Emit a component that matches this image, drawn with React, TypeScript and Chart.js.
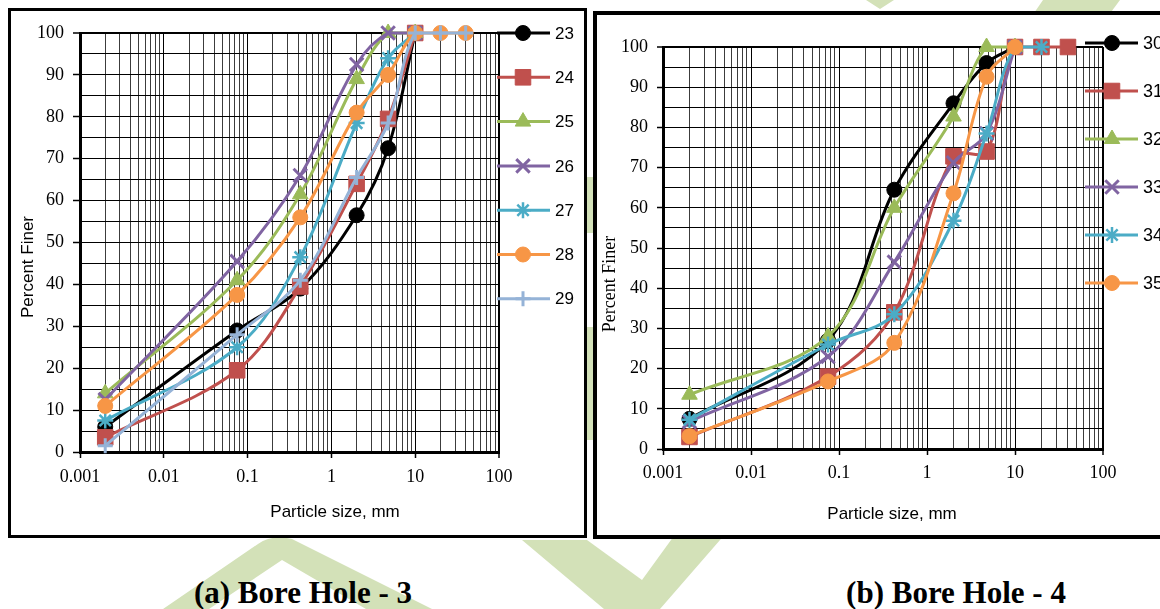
import React, { useEffect, useRef } from 'react';
import { Chart, registerables } from 'chart.js';
import { drawPoint } from 'chart.js/helpers';

Chart.register(...registerables);

// ---------- data ----------
const sieveSizes = [0.002, 0.075, 0.425, 2, 4.75, 10, 20, 40];
const xTickLabels = ['0.001', '0.01', '0.1', '1', '10', '100'];
const yTickLabels = ['0', '10', '20', '30', '40', '50', '60', '70', '80', '90', '100'];

// Bore Hole - 3
const bh3Names = ['23', '24', '25', '26', '27', '28', '29'];
const bh3_23 = [6, 29, 39, 56.5, 72.5, 100];
const bh3_24 = [3.5, 19.5, 39.5, 64, 79.5, 100];
const bh3_25 = [14, 41, 61.5, 89, 100, 100];
const bh3_26 = [12.5, 45.5, 66, 92.5, 100, 100];
const bh3_27 = [7.5, 25, 46.5, 78.5, 94, 100];
const bh3_28 = [11, 37.5, 56, 81, 90, 100, 100, 100];
const bh3_29 = [1.5, 28, 41, 65.5, 78.5, 100, 100, 100];

// Bore Hole - 4
const bh4Names = ['30', '31', '32', '33', '34', '35'];
const bh4_30 = [7.5, 27, 64.5, 86, 96, 100];
const bh4_31 = [3, 18, 34, 72.8, 74, 100, 100, 100];
const bh4_32 = [13.5, 28, 60, 82.7, 100, 100];
const bh4_33 = [6.8, 23, 46.5, 71.2, 78.5, 100];
const bh4_34 = [7.3, 26, 33.5, 56.8, 78.5, 100, 100];
const bh4_35 = [3.2, 16.8, 26.4, 63.6, 92.6, 100];

const bh3Series = [bh3_23, bh3_24, bh3_25, bh3_26, bh3_27, bh3_28, bh3_29];
const bh4Series = [bh4_30, bh4_31, bh4_32, bh4_33, bh4_34, bh4_35];

const seriesColors = ['#000000', '#C0504D', '#9BBB59', '#8064A2', '#4BACC6', '#F79646', '#95B3D7'];
const seriesMarkers = ['circle', 'rect', 'triangle', 'crossRot', 'star', 'circle', 'cross'];

const markerSize: Record<string, { r: number; bw: number }> = {
  circle: { r: 7.5, bw: 1 },
  rect: { r: 11, bw: 1 },
  triangle: { r: 9, bw: 1 },
  crossRot: { r: 9.5, bw: 3 },
  star: { r: 8, bw: 2.5 },
  cross: { r: 7.5, bw: 3 },
};

// grid positions
const xGrid: number[] = [];
for (let k = -3; k <= 1; k++) {
  for (let m = 1; m <= 9; m++) xGrid.push(Number((m * Math.pow(10, k)).toPrecision(6)));
}
xGrid.push(100);
const yGrid: number[] = [];
for (let v = 0; v <= 100; v += 5) yGrid.push(v);

const decadeIndex = (v: number) => {
  const l = Math.log10(v);
  const k = Math.round(l);
  return Math.abs(l - k) < 1e-6 ? k + 3 : -1;
};

type Cfg = {
  width: number;
  height: number;
  top: number;
  padRight: number;
  yAxisW: number;
  xAxisH: number;
  yTickLen: number;
  yPad: number;
  xTickLen: number;
  xPad: number;
  tickFont: number;
  names: string[];
  series: number[][];
  legend: { x1: number; x2: number; xm: number; lx: number; y0: number; dy: number; font: number };
  xTitle: { x: number; y: number; font: string };
  yTitle: { x: number; y: number; font: string };
};

function buildChart(canvas: HTMLCanvasElement, cfg: Cfg) {
  const datasets = cfg.series.map((vals, i) => {
    const ms = seriesMarkers[i];
    const sz = markerSize[ms];
    return {
      label: cfg.names[i],
      data: vals.map((v, j) => ({ x: sieveSizes[j], y: v })),
      borderColor: seriesColors[i],
      backgroundColor: seriesColors[i],
      borderWidth: 3,
      pointStyle: ms,
      pointRadius: sz.r,
      pointBorderWidth: sz.bw,
      pointBackgroundColor: seriesColors[i],
      pointBorderColor: seriesColors[i],
      tension: 0.35,
      fill: false,
      clip: false as const,
      order: 20 - i,
    };
  });

  const legendPlugin = {
    id: 'customLegend',
    afterDraw(chart: any) {
      const ctx = chart.ctx as CanvasRenderingContext2D;
      const L = cfg.legend;
      cfg.series.forEach((_, i) => {
        const y = L.y0 + i * L.dy;
        const color = seriesColors[i];
        const ms = seriesMarkers[i];
        const sz = markerSize[ms];
        ctx.save();
        ctx.strokeStyle = color;
        ctx.lineWidth = 3;
        ctx.beginPath();
        ctx.moveTo(L.x1, y);
        ctx.lineTo(L.x2, y);
        ctx.stroke();
        ctx.fillStyle = color;
        ctx.strokeStyle = color;
        ctx.lineWidth = sz.bw;
        drawPoint(ctx, { pointStyle: ms, radius: sz.r, borderWidth: sz.bw, rotation: 0 } as any, L.xm, y);
        ctx.fillStyle = '#000';
        ctx.font = `${L.font}px "Liberation Sans", Arial, sans-serif`;
        ctx.textAlign = 'left';
        ctx.textBaseline = 'middle';
        ctx.fillText(cfg.names[i], L.lx, y + 1);
        ctx.restore();
      });
      // axis titles
      ctx.save();
      ctx.fillStyle = '#000';
      ctx.textAlign = 'center';
      ctx.textBaseline = 'middle';
      ctx.font = cfg.xTitle.font;
      ctx.fillText('Particle size, mm', cfg.xTitle.x, cfg.xTitle.y);
      ctx.translate(cfg.yTitle.x, cfg.yTitle.y);
      ctx.rotate(-Math.PI / 2);
      ctx.font = cfg.yTitle.font;
      ctx.fillText('Percent Finer', 0, 0);
      ctx.restore();
    },
  };

  const tickFont = { family: '"Liberation Serif", "Times New Roman", serif', size: cfg.tickFont };

  return new Chart(canvas, {
    type: 'line',
    data: { datasets: datasets as any },
    options: {
      animation: false,
      responsive: false,
      devicePixelRatio: 1,
      layout: { padding: { left: 0, top: cfg.top, right: cfg.padRight, bottom: 0 } },
      plugins: { legend: { display: false }, tooltip: { enabled: false } },
      events: [],
      scales: {
        x: {
          type: 'logarithmic',
          min: 0.001,
          max: 100,
          afterBuildTicks: (s: any) => {
            s.ticks = xGrid.map((v) => ({ value: v }));
          },
          afterFit: (s: any) => {
            s.height = cfg.xAxisH;
          },
          ticks: {
            autoSkip: false,
            maxRotation: 0,
            minRotation: 0,
            padding: cfg.xPad,
            color: '#000',
            font: tickFont,
            callback: (v: any) => {
              const k = decadeIndex(Number(v));
              return k >= 0 ? xTickLabels[k] : '';
            },
          },
          grid: {
            color: (c: any) => {
              const v = c.tick ? c.tick.value : 1;
              return decadeIndex(v) >= 0 ? '#000' : '#3c3c3c';
            },
            lineWidth: (c: any) => (c.tick && c.tick.value >= 99.9 ? 2 : 1),
            tickColor: (c: any) => {
              const v = c.tick ? c.tick.value : 1;
              return decadeIndex(v) >= 0 ? '#000' : 'rgba(0,0,0,0)';
            },
            tickLength: cfg.xTickLen,
            tickWidth: 1.5,
          },
          border: { color: '#000', width: 3 },
        },
        y: {
          type: 'linear',
          min: 0,
          max: 100,
          afterBuildTicks: (s: any) => {
            s.ticks = yGrid.map((v) => ({ value: v }));
          },
          afterFit: (s: any) => {
            s.width = cfg.yAxisW;
          },
          ticks: {
            autoSkip: false,
            padding: cfg.yPad,
            color: '#000',
            font: tickFont,
            callback: (v: any) => {
              const n = Number(v);
              return n % 10 === 0 ? yTickLabels[n / 10] : '';
            },
          },
          grid: {
            color: '#000',
            lineWidth: (c: any) => (c.tick && c.tick.value >= 100 ? 2 : 1),
            tickColor: (c: any) => {
              const v = c.tick ? c.tick.value : 0;
              return v % 10 === 0 ? '#000' : 'rgba(0,0,0,0)';
            },
            tickLength: cfg.yTickLen,
            tickWidth: 1.5,
          },
          border: { color: '#000', width: 3 },
        },
      },
    },
    plugins: [legendPlugin],
  } as any);
}

const leftCfg: Cfg = {
  width: 573,
  height: 524,
  top: 22,
  padRight: 85,
  yAxisW: 69,
  xAxisH: 83,
  yTickLen: 7,
  yPad: 9,
  xTickLen: 6,
  xPad: 8,
  tickFont: 18,
  names: bh3Names,
  series: bh3Series,
  legend: { x1: 486, x2: 539, xm: 512, lx: 544, y0: 22, dy: 44.3, font: 17 },
  xTitle: { x: 324, y: 501, font: '17px "Liberation Sans", Arial, sans-serif' },
  yTitle: { x: 17.5, y: 256, font: '17px "Liberation Sans", Arial, sans-serif' },
};

const rightCfg: Cfg = {
  width: 580,
  height: 520,
  top: 32,
  padRight: 74,
  yAxisW: 66,
  xAxisH: 86,
  yTickLen: 6,
  yPad: 9,
  xTickLen: 6,
  xPad: 7,
  tickFont: 18,
  names: bh4Names,
  series: bh4Series,
  legend: { x1: 488, x2: 541, xm: 515, lx: 546, y0: 28, dy: 48, font: 18 },
  xTitle: { x: 295, y: 499, font: '17px "Liberation Sans", Arial, sans-serif' },
  yTitle: { x: 13, y: 269, font: '18px "Liberation Serif", "Times New Roman", serif' },
};

function ChartCanvas({ cfg }: { cfg: Cfg }) {
  const ref = useRef<HTMLCanvasElement | null>(null);
  useEffect(() => {
    if (!ref.current) return;
    const chart = buildChart(ref.current, cfg);
    return () => chart.destroy();
  }, [cfg]);
  return (
    <canvas
      ref={ref}
      width={cfg.width}
      height={cfg.height}
      style={{ display: 'block', width: cfg.width, height: cfg.height }}
    />
  );
}

const wm = '#D3E1B8';

export default function App() {
  const captionStyle: React.CSSProperties = {
    position: 'absolute',
    width: 400,
    textAlign: 'center',
    fontFamily: '"Liberation Serif", "Times New Roman", serif',
    fontWeight: 'bold',
    fontSize: 31,
    lineHeight: '31px',
    color: '#000',
    whiteSpace: 'nowrap',
  };
  return (
    <div
      style={{
        position: 'fixed',
        left: 0,
        top: 0,
        width: 1160,
        height: 609,
        overflow: 'hidden',
        background: '#fff',
      }}
    >
      <svg width={1160} height={609} style={{ position: 'absolute', left: 0, top: 0 }}>
        <path d="M163,609 L258,544 Q272,534 292,539 L432,609 L366,609 L282,560 L209,609 Z" fill={wm} />
        <path d="M522,540 L587,540 L642,580 L671,540 L720,540 L660,609 L604,609 Z" fill={wm} />
        <path d="M671,540 L720,540 L1120,0 L1043,0 Z" fill={wm} />
        <path d="M866,0 L894,0 L880,9 Z" fill={wm} />
        <rect x={585} y={177} width={10} height={56} fill={wm} />
        <rect x={585} y={327} width={10} height={113} fill={wm} />
      </svg>
      <div
        style={{
          position: 'absolute',
          left: 8,
          top: 8,
          width: 579,
          height: 530,
          boxSizing: 'border-box',
          border: '3px solid #000',
          background: '#fff',
        }}
      >
        <ChartCanvas cfg={leftCfg} />
      </div>
      <div
        style={{
          position: 'absolute',
          left: 593,
          top: 11,
          width: 588,
          height: 528,
          boxSizing: 'border-box',
          border: '4px solid #000',
          background: '#fff',
        }}
      >
        <ChartCanvas cfg={rightCfg} />
      </div>
      <div style={{ ...captionStyle, left: 103, top: 577 }}>(a) Bore Hole - 3</div>
      <div style={{ ...captionStyle, left: 756, top: 577 }}>(b) Bore Hole - 4</div>
    </div>
  );
}
